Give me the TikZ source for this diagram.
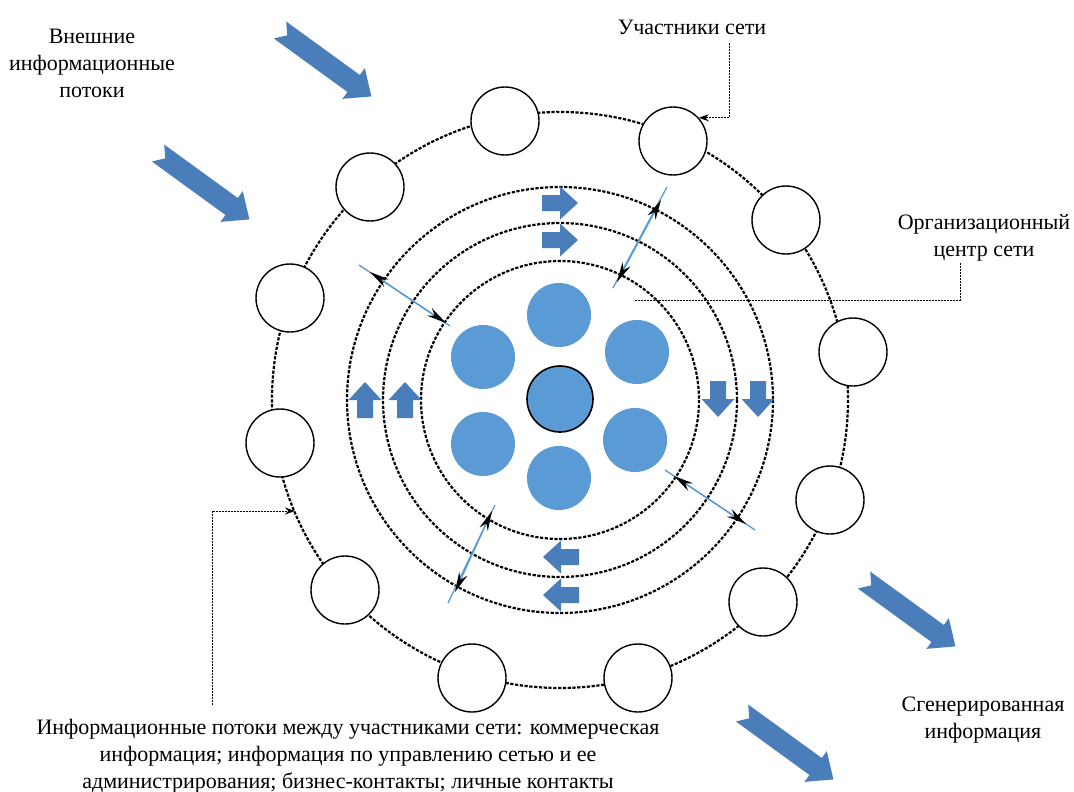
\documentclass[tikz,border=0pt]{standalone}
\usepackage{fontspec}
\setmainfont{Liberation Serif}
\usetikzlibrary{arrows.meta,calc}
\definecolor{cblue}{HTML}{5B9BD5}
\definecolor{ablue}{HTML}{4A7EBB}
\begin{document}
\begin{tikzpicture}[x=1pt,y=-1pt,
  ring/.style={draw=black,line width=2.2pt,dash pattern=on 3.2pt off 1.6pt},
  member/.style={circle,draw=black,line width=1.4pt,fill=white,minimum size=68pt,inner sep=0pt},
  core/.style={circle,fill=cblue,minimum size=64pt,inner sep=0pt},
  hub/.style={circle,fill=cblue,draw=black,line width=1.6pt,minimum size=66pt,inner sep=0pt},
  lbl/.style={font=\fontsize{22}{27}\selectfont,align=center,inner sep=0pt},
  note/.style={draw=black,line width=1pt,dash pattern=on 2pt off 1pt},
  notearrow/.style={note,-{Stealth[length=10pt,width=7pt]}},
  flowline/.style={draw=cblue,line width=1.3pt},
  flowtips/.style={flowline,{Stealth[color=black,length=20pt,width=9pt]}-{Stealth[color=black,length=20pt,width=9pt]}},
  blk/.pic={\fill[ablue] (0,-8) -- (18,-8) -- (18,-16.5) -- (36,0) -- (18,16.5) -- (18,8) -- (0,8) -- cycle;},
  chev/.pic={\fill[ablue] (0,-10.5) -- (91,-10.5) -- (91,-19) -- (113,0) -- (91,19) -- (91,10.5) -- (0,10.5) -- (9,0) -- cycle;}
]
\useasboundingbox[fill=white] (0,0) rectangle (1074,792);
\coordinate (ctr) at (560,400);

% rings
\draw[ring] (ctr) circle[radius=139];
\draw[ring] (ctr) circle[radius=177];
\draw[ring] (ctr) circle[radius=213];
\draw[ring] (ctr) circle[radius=288];

% core
\node[hub] (hub) at (560,399) {};
\node[core] (c1) at (559,315) {};
\node[core] (c2) at (637,352) {};
\node[core] (c3) at (635,440) {};
\node[core] (c4) at (559,478) {};
\node[core] (c5) at (483,444) {};
\node[core] (c6) at (483,357) {};

% members
\node[member] (p1) at (505,121) {};
\node[member] (p2) at (673,141) {};
\node[member] (p3) at (786,220) {};
\node[member] (p4) at (853,352) {};
\node[member] (p5) at (830,500) {};
\node[member] (p6) at (763,602) {};
\node[member] (p7) at (638,678) {};
\node[member] (p8) at (472,678) {};
\node[member] (p9) at (345,590) {};
\node[member] (p10) at (280,443) {};
\node[member] (p11) at (290,298) {};
\node[member] (p12) at (370,187) {};

% block arrows
\pic[rotate=0] at (542,203) {blk};
\pic[rotate=0] at (542,240) {blk};
\pic[rotate=90] at (365,418) {blk};
\pic[rotate=90] at (405,418) {blk};
\pic[rotate=-90] at (718,381) {blk};
\pic[rotate=-90] at (758,381) {blk};
\pic[rotate=180] at (579,557) {blk};
\pic[rotate=180] at (579,595) {blk};

% big chevrons
\pic[rotate=-36] at (280,30) {chev};
\pic[rotate=-36] at (158,153) {chev};
\pic[rotate=-36] at (864,580) {chev};
\pic[rotate=-36] at (742,713) {chev};

% flow double arrows
\coordinate (d1a) at (667,187); \coordinate (d1b) at (613,288);
\coordinate (d1s) at (661,200); \coordinate (d1t) at (617,282);
\coordinate (d2a) at (359,265); \coordinate (d2b) at (450,326);
\coordinate (d2s) at (370,272); \coordinate (d2t) at (446,323);
\coordinate (d3a) at (665,470); \coordinate (d3b) at (755,530);
\coordinate (d3s) at (674,476); \coordinate (d3t) at (746,524);
\coordinate (d4a) at (495,505); \coordinate (d4b) at (448,603);
\coordinate (d4s) at (492,511); \coordinate (d4t) at (455,592);
\foreach \i in {1,2,3,4}{
  \draw[flowline] (d\i a) -- (d\i b);
  \draw[flowtips] (d\i s) -- (d\i t);
}

% labels
\node[lbl] (tExt) at (92,63) {Внешние\\информационные\\потоки};
\node[lbl] (tUch) at (692,27) {Участники сети};
\node[lbl] (tOrg) at (984,238) {Организационный\\центр сети};
\node[lbl] (tGen) at (983,720) {Сгенерированная\\информация};
\node[lbl] (tFlow) at (348,756) {Информационные потоки между участниками сети: коммерческая\\информация; информация по управлению сетью и ее\\администрирования; бизнес-контакты; личные контакты};

% annotation connectors
\coordinate (uA) at (729,43);
\draw[notearrow] (uA) |- (p2.42);
\coordinate (oA) at (960,263);
\coordinate (oB) at (635,300);
\draw[note] (oA) |- (oB);
\coordinate (bA) at (212,705);
\coordinate (bB) at (295,511);
\draw[notearrow] (bA) |- (bB);
\end{tikzpicture}
\end{document}
